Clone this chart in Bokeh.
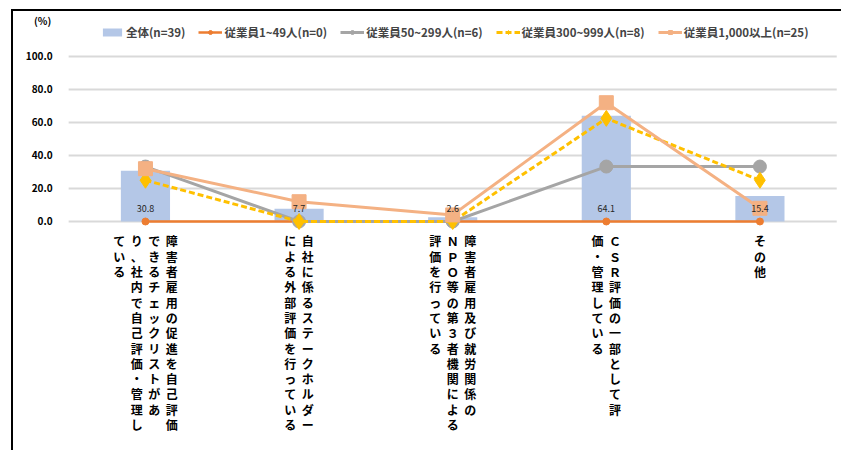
from bokeh.plotting import figure
from bokeh.models import Range1d, ColumnDataSource, Legend, LegendItem
from bokeh.core.properties import value
from bokeh.embed import file_html
from bokeh.resources import INLINE

# ---- data ----
category_columns = [
    ["障害者雇用の促進を自己評価", "できるチェックリストがあ", "り、社内で自己評価・管理し", "ている"],
    ["自社に係るステークホルダー", "による外部評価を行っている"],
    ["障害者雇用及び就労関係の", "ＮＰＯ等の第３者機関による", "評価を行っている"],
    ["ＣＳＲ評価の一部として評", "価・管理している"],
    ["その他"],
]
categories = ["".join(c) for c in category_columns]

series_names = ["全体(n=39)", "従業員1~49人(n=0)", "従業員50~299人(n=6)",
                "従業員300~999人(n=8)", "従業員1,000以上(n=25)"]
overall = [30.8, 7.7, 2.6, 64.1, 15.4]
emp_1_49 = [0.0, 0.0, 0.0, 0.0, 0.0]
emp_50_299 = [33.3, 0.0, 0.0, 33.3, 33.3]
emp_300_999 = [25.0, 0.0, 0.0, 62.5, 25.0]
emp_1000 = [32.0, 12.0, 4.0, 72.0, 8.0]
y_ticks = [0, 20, 40, 60, 80, 100]
y_unit_label = "(%)"

FONT = "Noto Sans CJK JP"
COL_STEP = 17.5  # px between vertical text columns

idx = list(range(len(categories)))
half = 0.5

p = figure(x_range=Range1d(-0.859, 4.544), y_range=Range1d(-140, 127.27),
           width=830, height=441, output_backend="svg", toolbar_location=None,
           min_border=0)
p.styles = {"margin-left": "11px", "margin-top": "9px",
            "border-left": "2px solid black", "border-top": "2px solid black"}
p.outline_line_color = None
p.background_fill_color = "white"
p.border_fill_color = "white"
p.xaxis.visible = False
p.yaxis.visible = False
p.grid.visible = False

# gridlines (value axis)
p.segment(x0=[idx[0] - half] * len(y_ticks), x1=[idx[-1] + half] * len(y_ticks),
          y0=y_ticks, y1=y_ticks, line_color="#D9D9D9", line_width=2)
# tick labels
p.text(x=[idx[0] - half] * len(y_ticks), y=y_ticks, text=["%.1f" % t for t in y_ticks],
       x_offset=-16, text_align="right", text_baseline="middle",
       text_font=value(FONT), text_font_size="10px", text_font_style="bold", text_color="#000000")
p.text(x=[idx[0] - half], y=[y_ticks[-1]], text=[y_unit_label], x_offset=-26, y_offset=-36,
       text_align="center", text_baseline="middle",
       text_font=value(FONT), text_font_size="10px", text_font_style="bold", text_color="#000000")

src = ColumnDataSource(dict(x=idx, overall=overall, e1=emp_1_49, e2=emp_50_299,
                            e3=emp_300_999, e4=emp_1000,
                            lab=["%.1f" % v for v in overall]))

bar = p.vbar(x="x", top="overall", width=0.32, source=src, fill_color="#B4C7E7", line_color=None)

l1 = p.line("x", "e1", source=src, line_color="#ED7D31", line_width=2.5)
m1 = p.scatter("x", "e1", source=src, marker="circle", size=7, fill_color="#ED7D31", line_color="#ED7D31")
l2 = p.line("x", "e2", source=src, line_color="#A5A5A5", line_width=3)
m2 = p.scatter("x", "e2", source=src, marker="circle", size=13, fill_color="#A5A5A5", line_color="#A5A5A5")
l3 = p.line("x", "e3", source=src, line_color="#FFC000", line_width=3, line_dash="6 3")
m3 = p.scatter("x", "e3", source=src, marker="diamond", size=16, fill_color="#FFC000", line_color="#FFC000")
l4 = p.line("x", "e4", source=src, line_color="#F4B183", line_width=3)
m4 = p.scatter("x", "e4", source=src, marker="square", size=14, fill_color="#F4B183", line_color="#F4B183")

p.text("x", 0, text="lab", source=src, y_offset=-13, text_align="center", text_baseline="middle",
       text_font=value(FONT), text_font_size="9px", text_color="#262626")

# category labels, written vertically (columns right to left)
cx, ctext, coff = [], [], []
for i, cols in zip(idx, category_columns):
    n = len(cols)
    for j, col in enumerate(cols):
        cx.append(i)
        ctext.append("\n".join(col))
        coff.append(((n - 1) / 2 - j) * COL_STEP)
csrc = ColumnDataSource(dict(x=cx, y=[0] * len(cx), t=ctext, off=coff))
p.text("x", "y", text="t", source=csrc, x_offset="off", y_offset=11,
       text_align="center", text_baseline="top", text_line_height=0.9,
       text_font=value(FONT), text_font_size="12px", text_font_style="bold", text_color="#000000")

legend = Legend(items=[
    LegendItem(label=series_names[0], renderers=[bar]),
    LegendItem(label=series_names[1], renderers=[l1, m1]),
    LegendItem(label=series_names[2], renderers=[l2, m2]),
    LegendItem(label=series_names[3], renderers=[l3, m3]),
    LegendItem(label=series_names[4], renderers=[l4, m4]),
], orientation="horizontal", location=(87, 412))
legend.label_text_font = FONT
legend.label_text_font_size = "11.5px"
legend.label_text_font_style = "bold"
legend.glyph_width = 24
legend.glyph_height = 10
legend.spacing = 13
legend.label_standoff = 2
legend.border_line_color = None
legend.background_fill_alpha = 0
legend.padding = 2
legend.margin = 0
p.add_layout(legend, "center")

open("out.html", "w").write(file_html(p, INLINE))
